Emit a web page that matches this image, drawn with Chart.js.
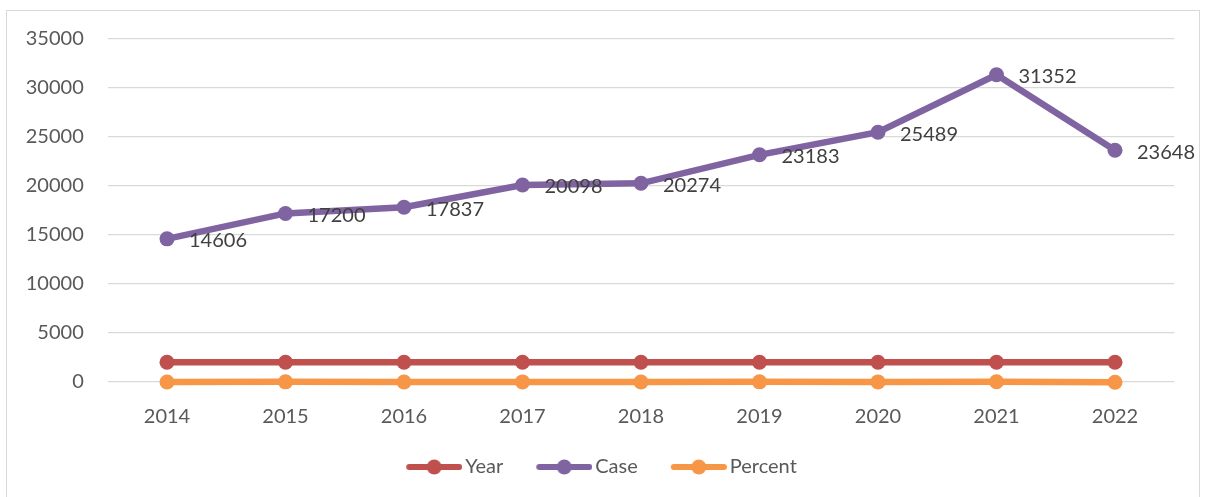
<!DOCTYPE html>
<html>
<head>
<meta charset="utf-8">
<script src="https://cdn.jsdelivr.net/npm/chart.js@4/dist/chart.umd.min.js"></script>
<style>
  html, body { margin: 0; padding: 0; background: #ffffff; }
  #frame { position: absolute; left: 6px; top: 10px; width: 1194px; height: 520px; border: 1px solid #d9d9d9; box-sizing: border-box; }
  #wrap { position: absolute; left: 0; top: 0; width: 1205px; height: 497px; }
  body { width: 1205px; height: 497px; overflow: hidden; }
</style>
</head>
<body>
<div id="frame"></div>
<div id="wrap"><canvas id="c" width="1205" height="497"></canvas></div>
<script>
const categories = ['2014', '2015', '2016', '2017', '2018', '2019', '2020', '2021', '2022'];
const yearValues = [2014, 2015, 2016, 2017, 2018, 2019, 2020, 2021, 2022];
const caseValues = [14606, 17200, 17837, 20098, 20274, 23183, 25489, 31352, 23648];
const percentValues = [0, 17.8, 3.7, 12.7, 0.9, 14.4, 9.9, 23.0, -24.6];
const yTickValues = [0, 5000, 10000, 15000, 20000, 25000, 30000, 35000];
const seriesNames = ['Year', 'Case', 'Percent'];
const seriesColors = ['#C0504D', '#8064A2', '#F79646'];

const FONT = 'Lato';

function legendSymbol(color) {
  const c = document.createElement('canvas');
  c.width = 83; c.height = 18;
  const g = c.getContext('2d');
  g.strokeStyle = color;
  g.lineWidth = 6;
  g.lineCap = 'round';
  g.beginPath();
  g.moveTo(30, 9); g.lineTo(80, 9);
  g.stroke();
  g.fillStyle = color;
  g.beginPath();
  g.arc(55, 9, 7.5, 0, Math.PI * 2);
  g.fill();
  return c;
}
const symbols = seriesColors.map(legendSymbol);

const caseLabels = {
  id: 'caseLabels',
  afterDatasetsDraw(chart) {
    const meta = chart.getDatasetMeta(1);
    const ctx = chart.ctx;
    ctx.save();
    ctx.font = '20px ' + FONT;
    ctx.fillStyle = '#404040';
    ctx.textAlign = 'left';
    ctx.textBaseline = 'middle';
    meta.data.forEach((pt, i) => {
      ctx.fillText(String(caseValues[i]), pt.x + 22, pt.y + 2);
    });
    ctx.restore();
  }
};

const shiftLegend = {
  id: 'shiftLegend',
  beforeDraw(chart) {
    if (chart.legend) { chart.legend.left = -22; chart.legend.right = 1205; }
  }
};

function ds(label, data, color) {
  return {
    label, data,
    borderColor: color, backgroundColor: color,
    borderWidth: 6.5,
    pointRadius: 7.5, pointHoverRadius: 7.5,
    pointBackgroundColor: color, pointBorderColor: color, pointBorderWidth: 0,
    tension: 0, fill: false, clip: false
  };
}

new Chart(document.getElementById('c'), {
  type: 'line',
  data: {
    labels: categories,
    datasets: [
      ds(seriesNames[0], yearValues, seriesColors[0]),
      ds(seriesNames[1], caseValues, seriesColors[1]),
      ds(seriesNames[2], percentValues, seriesColors[2])
    ]
  },
  options: {
    responsive: false,
    animation: false,
    devicePixelRatio: 1,
    layout: { padding: { left: 0, right: 30.75, top: 39, bottom: 10 } },
    scales: {
      x: {
        offset: true,
        grid: { display: false },
        border: { display: false },
        ticks: { color: '#595959', font: { family: FONT, size: 20 }, padding: 15, maxRotation: 0 },
        afterFit(s) { s.height = 62; }
      },
      y: {
        min: 0, max: 35000,
        afterBuildTicks(s) { s.ticks = yTickValues.map(v => ({ value: v })); },
        grid: { color: '#d9d9d9', lineWidth: 1.3, drawTicks: false },
        border: { display: false },
        ticks: { color: '#595959', font: { family: FONT, size: 20 }, padding: 24,
                 callback: (v) => String(v) },
        afterFit(s) { s.width = 107.75; }
      }
    },
    plugins: {
      tooltip: { enabled: false },
      legend: {
        position: 'bottom',
        labels: {
          usePointStyle: true,
          pointStyleWidth: 69,
          padding: 13,
          color: '#595959',
          font: { family: FONT, size: 20 },
          generateLabels(chart) {
            return chart.data.datasets.map((d, i) => ({
              text: d.label,
              pointStyle: symbols[i],
              fillStyle: d.borderColor,
              strokeStyle: d.borderColor,
              lineWidth: 0,
              fontColor: '#595959',
              hidden: false,
              datasetIndex: i
            }));
          }
        }
      }
    }
  },
  plugins: [caseLabels, shiftLegend]
});
</script>
</body>
</html>
